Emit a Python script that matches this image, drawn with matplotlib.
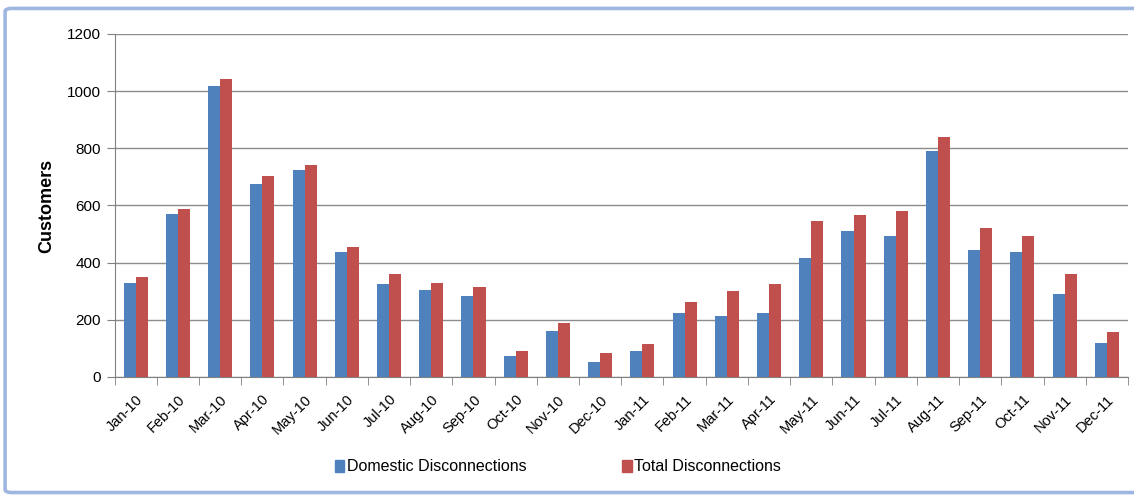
import numpy as np
import matplotlib
matplotlib.use('Agg')
import matplotlib.pyplot as plt
from matplotlib.patches import FancyBboxPatch, Patch

months = ['Jan-10', 'Feb-10', 'Mar-10', 'Apr-10', 'May-10', 'Jun-10', 'Jul-10', 'Aug-10',
          'Sep-10', 'Oct-10', 'Nov-10', 'Dec-10', 'Jan-11', 'Feb-11', 'Mar-11', 'Apr-11',
          'May-11', 'Jun-11', 'Jul-11', 'Aug-11', 'Sep-11', 'Oct-11', 'Nov-11', 'Dec-11']
domestic = [330, 571, 1017, 674, 725, 438, 324, 304, 284, 75, 161, 54,
            91, 223, 213, 223, 417, 509, 494, 792, 443, 438, 289, 120]
total = [350, 586, 1043, 704, 740, 453, 361, 330, 316, 90, 188, 85,
         115, 263, 300, 325, 547, 566, 581, 839, 520, 494, 361, 156]

blue = '#4F81BD'
red = '#C0504D'

plt.rcParams['font.family'] = ['Liberation Sans', 'DejaVu Sans']

fig = plt.figure(figsize=(11.34, 4.95), dpi=100)
ax1 = fig.add_axes([0.101, 0.2384, 0.8937, 0.693])

# light blue frame around the chart, right side runs off the picture
frame = FancyBboxPatch((0.0045, 0.005), 1.05, 0.978, boxstyle='round,pad=0,rounding_size=0.006',
                       transform=fig.transFigure, facecolor='white', edgecolor='#9FB6E0',
                       linewidth=2.6, zorder=-10)
fig.patches.append(frame)

x = np.arange(len(months))
w = 0.285
ax1.bar(x - w / 2, domestic, w, color=blue, label='Domestic Disconnections', zorder=3)
ax1.bar(x + w / 2, total, w, color=red, label='Total Disconnections', zorder=3)

ax1.set_xlim(-0.5, len(months) - 0.5)
ax1.set_ylim(0, 1200)
ax1.set_yticks(np.arange(0, 1201, 200))
ax1.yaxis.grid(True, color='#8c8c8c', linewidth=1.0, zorder=0)
ax1.set_axisbelow(True)

ax1.set_xticks(x)
ax1.set_xticklabels(months, rotation=45, ha='right', rotation_mode='anchor', fontsize=10.5)
ax1.set_xticks(np.arange(-0.5, len(months)), minor=True)
ax1.tick_params(axis='x', which='major', length=0, pad=11)
ax1.tick_params(axis='x', which='minor', length=6, color='#808080', direction='out')
ax1.tick_params(axis='y', length=6, color='#808080', labelsize=11, direction='out', pad=4)

for s in ['top', 'right']:
    ax1.spines[s].set_visible(False)
ax1.spines['left'].set_color('#808080')
ax1.spines['bottom'].set_color('#808080')

ax1.set_ylabel('Customers', fontsize=13, fontweight='bold', labelpad=8)

handles = [Patch(color=blue), Patch(color=red)]
fig.legend(handles, ['Domestic Disconnections', 'Total Disconnections'], loc='center',
           bbox_to_anchor=(0.492, 0.057), ncol=2, frameon=False, fontsize=11.5,
           handlelength=0.6, handleheight=0.8, handletextpad=0.15, columnspacing=6)

fig.savefig('out.png', dpi=100)
